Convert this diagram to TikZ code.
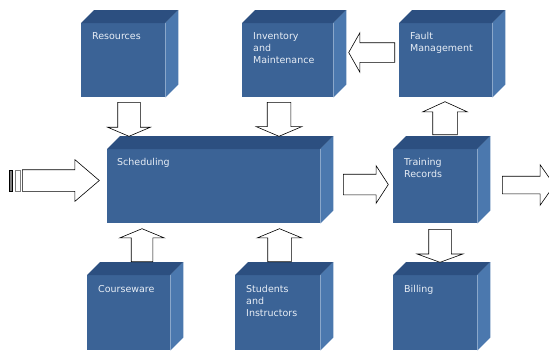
\documentclass[tikz,border=0pt]{standalone}
\usepackage{fontspec}
\setmainfont{DejaVu Sans}
\usetikzlibrary{shapes.arrows}

\definecolor{frontblue}{HTML}{3B6396}
\definecolor{topblue}{HTML}{2C4F80}
\definecolor{sideblue}{HTML}{4B78AE}
\definecolor{labelwhite}{HTML}{E8EEF6}

\tikzset{
  face/.style={fill=frontblue, inner sep=0pt, anchor=north west},
  boxtext/.style={text=labelwhite, font=\fontsize{9.5}{12}\selectfont, align=left, inner sep=0pt, anchor=north west},
  blockarrow/.style={single arrow, draw=black, fill=white, inner xsep=0pt, line width=0.6pt, anchor=tail},
}

\begin{document}
\begin{tikzpicture}[x=1pt,y=-1pt]
\clip (0,0) rectangle (549,351);
% front faces
\node[face, minimum width=84pt, minimum height=74pt] (res) at (81,23) {};
\node[face, minimum width=91pt, minimum height=74pt] (inv) at (242,23) {};
\node[face, minimum width=93pt, minimum height=74pt] (fault) at (399,23) {};
\node[face, minimum width=213pt, minimum height=74pt] (sched) at (107,149) {};
\node[face, minimum width=84pt, minimum height=74pt] (train) at (393,149) {};
\node[face, minimum width=83pt, minimum height=75pt] (course) at (87,275) {};
\node[face, minimum width=85pt, minimum height=75pt] (stud) at (235,275) {};
\node[face, minimum width=84pt, minimum height=75pt] (bill) at (393,275) {};
% top and side faces
\foreach \b in {res,inv,fault,sched,train,course,stud,bill}{
  \fill[topblue] (\b.north west) -- ++(13,-13) -- ([shift={(13,-13)}]\b.north east) -- (\b.north east) -- cycle;
  \fill[sideblue] (\b.north east) -- ++(13,-13) -- ([shift={(13,-13)}]\b.south east) -- (\b.south east) -- cycle;
}
% labels
\node[boxtext] (res-t) at ([shift={(11,9)}]res.north west) {Resources};
\node[boxtext] (inv-t) at ([shift={(11,9)}]inv.north west) {Inventory\\and\\Maintenance};
\node[boxtext] (fault-t) at ([shift={(11,9)}]fault.north west) {Fault\\Management};
\node[boxtext] (sched-t) at ([shift={(10,9)}]sched.north west) {Scheduling};
\node[boxtext] (train-t) at ([shift={(11,9)}]train.north west) {Training\\Records};
\node[boxtext] (course-t) at ([shift={(11,10)}]course.north west) {Courseware};
\node[boxtext] (stud-t) at ([shift={(11,10)}]stud.north west) {Students\\and\\Instructors};
\node[boxtext] (bill-t) at ([shift={(11,10)}]bill.north west) {Billing};
% block arrows
\node[blockarrow, rotate=-90, minimum height=34pt, inner ysep=11pt, single arrow head extend=10pt, single arrow tip angle=134] (a1) at (129,102) {};
\node[blockarrow, rotate=-90, minimum height=34pt, inner ysep=11.5pt, single arrow head extend=11pt, single arrow tip angle=134] (a2) at (279,102) {};
\node[blockarrow, rotate=180, minimum height=46pt, inner ysep=9.5pt, single arrow head extend=10pt, single arrow tip angle=121] (a3) at (395,52.5) {};
\node[blockarrow, rotate=90, minimum height=33pt, inner ysep=12pt, single arrow head extend=10pt, single arrow tip angle=131] (a4) at (445,135) {};
\node[blockarrow, minimum height=45pt, inner ysep=10pt, single arrow head extend=8.5pt, single arrow tip angle=114] (a5) at (343,184.5) {};
\node[blockarrow, minimum height=52pt, inner ysep=8.5pt, single arrow head extend=11.5pt, single arrow tip angle=110] (a6) at (502,185) {};
\node[blockarrow, minimum height=77pt, inner ysep=10.5pt, single arrow head extend=10pt, single arrow tip angle=81] (a7) at (22,180.5) {};
\draw[line width=0.6pt, fill=gray] (9,170) rectangle (12,191);
\draw[line width=0.6pt, draw=gray, fill=white] (15,170) rectangle (20,191);
\node[blockarrow, rotate=90, minimum height=33pt, inner ysep=10.5pt, single arrow head extend=11.5pt, single arrow tip angle=135] (a8) at (142,262) {};
\node[blockarrow, rotate=90, minimum height=33pt, inner ysep=11.5pt, single arrow head extend=10.5pt, single arrow tip angle=135] (a9) at (279.5,262) {};
\node[blockarrow, rotate=-90, minimum height=33pt, inner ysep=11pt, single arrow head extend=11.5pt, single arrow tip angle=140] (a10) at (440,229) {};
\end{tikzpicture}
\end{document}
